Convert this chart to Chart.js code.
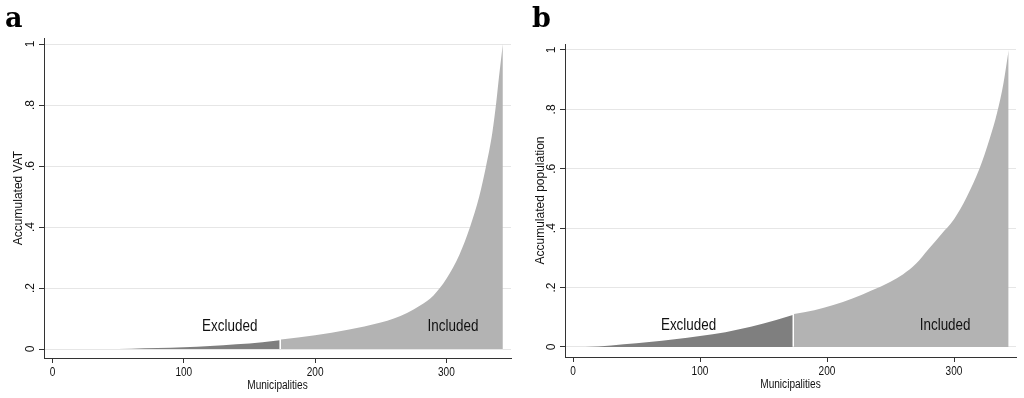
<!DOCTYPE html>
<html>
<head>
<meta charset="utf-8">
<script src="https://cdn.jsdelivr.net/npm/chart.js@4.4.1/dist/chart.umd.min.js"></script>
<style>
  html, body { margin: 0; padding: 0; background: #fff; }
  #wrap { position: relative; width: 1024px; height: 398px; }
  canvas { position: absolute; top: 0; }
  #chartA { left: 0; }
  #chartB { left: 512px; }
</style>
</head>
<body>
<div id="wrap">
  <canvas id="chartA" width="512" height="398"></canvas>
  <canvas id="chartB" width="512" height="398"></canvas>
</div>
<script>
// panel a - accumulated VAT by municipality
const vatExclX = [0, 20, 40, 60, 80, 100, 120, 140, 160, 173];
const vatExclY = [0, 0.0001, 0.0004, 0.0012, 0.0029, 0.0055, 0.0095, 0.0152, 0.0225, 0.029];
const vatInclX = [174, 200, 225, 250, 260, 270, 280, 290, 300, 310, 318, 325, 330, 335, 338, 340, 343];
const vatInclY = [0.031, 0.045, 0.063, 0.087, 0.1, 0.118, 0.143, 0.175, 0.23, 0.31, 0.4, 0.5, 0.595, 0.71, 0.81, 0.89, 1.0];

// panel b - accumulated population by municipality
const popExclX = [0, 20, 40, 60, 80, 100, 120, 140, 160, 173];
const popExclY = [0, 0.002, 0.009, 0.017, 0.026, 0.037, 0.05, 0.068, 0.091, 0.108];
const popInclX = [174, 190, 205, 220, 235, 250, 260, 270, 280, 290, 300, 310, 320, 328, 334, 339, 343];
const popInclY = [0.111, 0.124, 0.141, 0.163, 0.19, 0.22, 0.245, 0.28, 0.33, 0.38, 0.43, 0.505, 0.6, 0.7, 0.79, 0.89, 1.0];

const xTicks = [0, 100, 200, 300];
const yTicks = [0, 0.2, 0.4, 0.6, 0.8, 1];
const areaNames = ["Excluded", "Included"];
const vatNamePos = [[135, 0.075], [305, 0.075]];
const popNamePos = [[91, 0.071], [293, 0.071]];

const regular = '"Liberation Sans", Arial, sans-serif';
const squeeze = 0.84; // the original picture is a little narrow

function pts(xs, ys) {
  return xs.map((x, i) => ({ x: x, y: ys[i] }));
}

function yLabel(v) {
  if (v === 0) return "0";
  if (v === 1) return "1";
  return v.toFixed(1).replace(/^0/, "");
}

function narrowText(ctx, txt, x, y) {
  ctx.save();
  ctx.translate(x, y);
  ctx.scale(squeeze, 1);
  ctx.fillText(txt, 0, 0);
  ctx.restore();
}

// x tick labels, x title, Excluded / Included and the panel letter
function labelsPlugin(letter, letterX, namePos) {
  return {
    id: "labels",
    afterDraw(chart) {
      const ctx = chart.ctx;
      const xs = chart.scales.x;
      const ys = chart.scales.y;
      const area = chart.chartArea;
      ctx.save();
      ctx.fillStyle = "#111";
      ctx.textAlign = "center";
      ctx.textBaseline = "middle";
      ctx.font = "12px " + regular;
      xTicks.forEach((v) => narrowText(ctx, String(v), xs.getPixelForValue(v), area.bottom + 15));
      narrowText(ctx, "Municipalities", (area.left + area.right) / 2, area.bottom + 28);
      ctx.font = "16px " + regular;
      for (let i = 0; i < areaNames.length; i++) {
        narrowText(ctx, areaNames[i], xs.getPixelForValue(namePos[i][0]), ys.getPixelForValue(namePos[i][1]));
      }
      ctx.font = 'bold 27px "DejaVu Serif", "Liberation Serif", serif';
      ctx.textAlign = "left";
      ctx.textBaseline = "alphabetic";
      ctx.fillStyle = "#000";
      ctx.fillText(letter, letterX, 27);
      ctx.restore();
    }
  };
}

function makeChart(id, p) {
  new Chart(document.getElementById(id), {
    type: "line",
    data: {
      datasets: [
        {
          data: pts(p.exclX, p.exclY),
          fill: "origin",
          backgroundColor: "#7f7f7f",
          borderWidth: 0,
          pointRadius: 0,
          cubicInterpolationMode: "monotone"
        },
        {
          data: pts(p.inclX, p.inclY),
          fill: "origin",
          backgroundColor: "#b3b3b3",
          borderWidth: 0,
          pointRadius: 0,
          cubicInterpolationMode: "monotone"
        }
      ]
    },
    options: {
      responsive: false,
      animation: false,
      events: [],
      layout: { padding: { top: p.top, right: p.right, left: 0, bottom: 0 } },
      plugins: { legend: { display: false }, tooltip: { enabled: false } },
      scales: {
        x: {
          type: "linear",
          min: p.xMin,
          max: p.xMax,
          afterBuildTicks: (s) => { s.ticks = xTicks.map((v) => ({ value: v })); },
          afterFit: (s) => { s.height = p.xh; },
          grid: { drawOnChartArea: false, drawTicks: true, tickLength: 5, color: "#333" },
          border: { display: true, color: "#333", width: 1 },
          ticks: { display: false }
        },
        y: {
          type: "linear",
          min: p.yMin,
          max: p.yMax,
          afterBuildTicks: (s) => { s.ticks = yTicks.map((v) => ({ value: v })); },
          afterFit: (s) => { s.width = p.yw; },
          grid: { color: "#e6e6e6", lineWidth: 1, drawTicks: true, tickLength: 5, tickColor: "#333" },
          border: { display: true, color: "#333", width: 1 },
          ticks: {
            color: "#111",
            padding: 3,
            minRotation: 90,
            maxRotation: 90,
            crossAlign: "center",
            font: { family: regular, size: 12 },
            callback: yLabel
          },
          title: {
            display: true,
            text: p.yTitle,
            color: "#111",
            padding: { top: p.titlePad, bottom: 0 },
            font: { family: regular, size: 12 }
          }
        }
      }
    },
    plugins: [labelsPlugin(p.letter, p.letterX, p.namePos)]
  });
}

makeChart("chartA", {
  exclX: vatExclX, exclY: vatExclY, inclX: vatInclX, inclY: vatInclY,
  yTitle: "Accumulated VAT", letter: "a", letterX: 5, namePos: vatNamePos,
  top: 38, right: 1, yw: 44, xh: 40, titlePad: 11,
  xMin: -6.47, xMax: 349.2, yMin: -0.0295, yMax: 1.0197
});

makeChart("chartB", {
  exclX: popExclX, exclY: popExclY, inclX: popInclX, inclY: popInclY,
  yTitle: "Accumulated population", letter: "b", letterX: 20, namePos: popNamePos,
  top: 44, right: 8, yw: 53, xh: 41, titlePad: 21,
  xMin: -6.3, xMax: 348.8, yMin: -0.0337, yMax: 1.0202
});
</script>
</body>
</html>
